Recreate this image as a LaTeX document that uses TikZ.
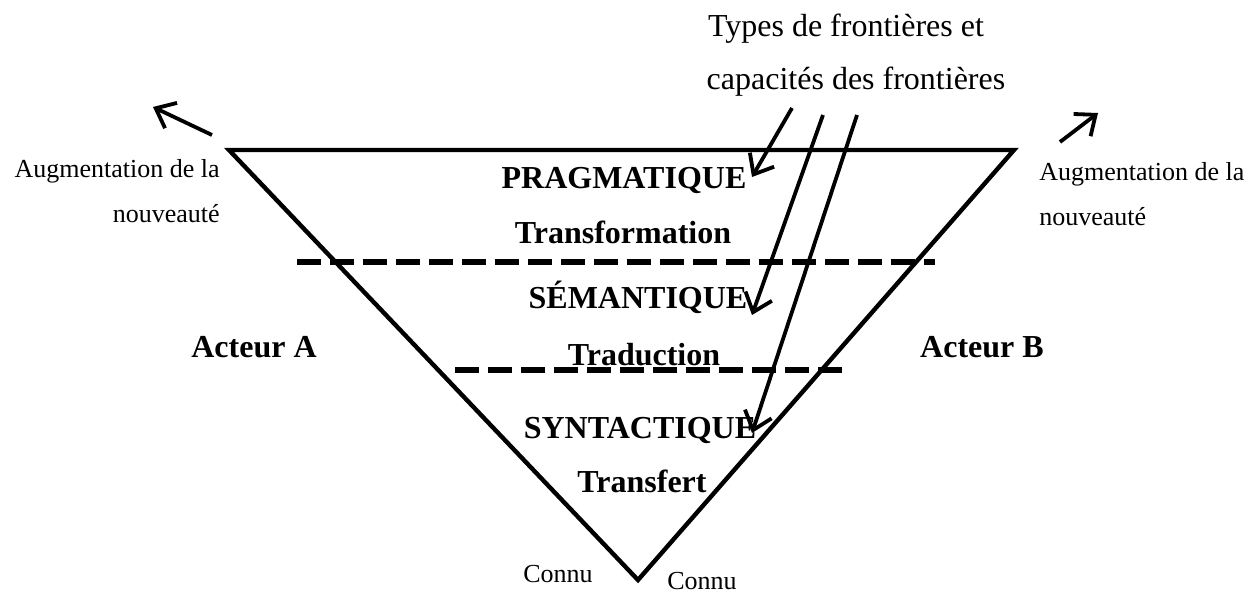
\documentclass[tikz,border=0pt]{standalone}
\usepackage{fontspec}
\setmainfont{Liberation Serif}
\usetikzlibrary{arrows.meta,positioning}

\begin{document}
\begin{tikzpicture}[
  x=0.5pt, y=-0.5pt,
  every node/.style={inner sep=0pt, anchor=base},
  niveau/.style={font=\fontsize{16}{19}\selectfont\bfseries},
  legende/.style={font=\fontsize{16}{19}\selectfont},
  petit/.style={font=\fontsize{13}{16}\selectfont},
  fleche/.style={-{Straight Barb[length=8.5pt,width=14pt]}, line width=1.9pt},
  bord/.style={line width=2.2pt, line join=miter},
  seuil/.style={line width=3pt, dash pattern=on 12pt off 4.5pt}
]

\useasboundingbox (0,0) rectangle (1250,594);

% Triangle
\coordinate (hg) at (229,150);
\coordinate (hd) at (1014,150);
\coordinate (bas) at (638,580);
\draw[bord] (hg) -- (hd) -- (bas) -- cycle;

% Seuils entre les niveaux
\coordinate (s1g) at (297,262);
\coordinate (s1d) at (935,262);
\coordinate (s2g) at (455,370);
\coordinate (s2d) at (843,370);
\draw[seuil] (s1g) -- (s1d);
\draw[seuil] (s2g) -- (s2d);

% Niveaux
\node[niveau] (prag) at (624,188) {PRAGMATIQUE};
\node[niveau] (transfo) at (623,243) {Transformation};
\node[niveau] (sem) at (638,308) {SÉMANTIQUE};
\node[niveau] (trad) at (644,365) {Traduction};
\node[niveau] (synt) at (640,438) {SYNTACTIQUE};
\node[niveau] (transf) at (642,492) {Transfert};

% Acteurs
\node[niveau] (acteurA) at (254,357) {Acteur A};
\node[niveau] (acteurB) at (982,357) {Acteur B};

% Types de frontières
\node[legende] (types1) at (846,36) {Types de frontières et};
\node[legende] (types2) at (856,90) {capacités des frontières};

% Nouveauté
\node[petit, anchor=base east] (augG) at (220,177) {Augmentation de la};
\node[petit, anchor=base east] (nouvG) at (220,222) {nouveauté};
\node[petit, anchor=base west] (augD) at (1039,180) {Augmentation de la};
\node[petit, anchor=base west] (nouvD) at (1039,225) {nouveauté};

% Connu
\node[petit] (connuG) at (558,582) {Connu};
\node[petit] (connuD) at (702,589) {Connu};

% Flèches
\coordinate (dG) at (212,135);
\coordinate (fG) at (153,107);
\coordinate (dD) at (1060,142);
\coordinate (fD) at (1098,113);
\draw[fleche] (dG) -- (fG);
\draw[fleche] (dD) -- (fD);

\coordinate (d1) at (792,108);
\coordinate (f1) at (752,177);
\coordinate (d2) at (823,115);
\coordinate (f2) at (752,315);
\coordinate (d3) at (857,115);
\coordinate (f3) at (752,433);
\draw[fleche] (d1) -- (f1);
\draw[fleche] (d2) -- (f2);
\draw[fleche] (d3) -- (f3);

\end{tikzpicture}
\end{document}
